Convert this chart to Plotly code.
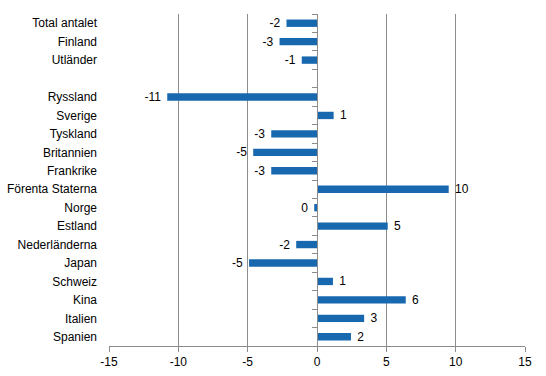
import plotly.graph_objects as go

categories = ["Total antalet", "Finland", "Utländer", " ", "Ryssland", "Sverige", "Tyskland",
              "Britannien", "Frankrike", "Förenta Staterna", "Norge", "Estland", "Nederländerna",
              "Japan", "Schweiz", "Kina", "Italien", "Spanien"]
values = [-2.2, -2.7, -1.1, None, -10.8, 1.2, -3.3, -4.6, -3.3, 9.5, -0.2, 5.1, -1.5, -4.9,
          1.15, 6.4, 3.4, 2.45]
labels = ["-2", "-3", "-1", "", "-11", "1", "-3", "-5", "-3", "10", "0", "5", "-2", "-5",
          "1", "6", "3", "2"]
x_ticks = [-15, -10, -5, 0, 5, 10, 15]

grid = "#8c8c8c"
font = dict(family="Liberation Sans, Arial, sans-serif", size=12, color="black")

nb = "\u00a0"
padded = []
for v, l in zip(values, labels):
    if v is None:
        padded.append("")
    elif v < 0:
        padded.append(l + nb)
    else:
        padded.append(nb + l)

fig = go.Figure()
fig.add_trace(go.Bar(x=[None] * len(categories), y=categories, orientation="h",
                     yaxis="y", showlegend=False, hoverinfo="skip"))
fig.add_trace(go.Bar(
    x=values, y=categories, orientation="h", yaxis="y2",
    marker=dict(color="#1868b0", line=dict(width=0)),
    text=padded, textposition="outside", cliponaxis=False, constraintext="none",
    textfont=font, showlegend=False,
))

fig.update_layout(
    width=546, height=376,
    margin=dict(l=109, r=21, t=14, b=30),
    paper_bgcolor="white", plot_bgcolor="white",
    font=font, bargap=0.6,
    xaxis=dict(range=[-15, 15], tickvals=x_ticks, ticktext=[str(v) for v in x_ticks],
               showgrid=True, gridcolor=grid, gridwidth=1, zeroline=False,
               showline=True, linecolor=grid, linewidth=1, automargin=False,
               ticks="outside", ticklen=5, tickcolor=grid, tickfont=font),
    yaxis=dict(type="category", categoryorder="array", categoryarray=categories,
               autorange="reversed", showgrid=False, zeroline=False, showline=False,
               ticks="", tickfont=font, ticklabelstandoff=11, automargin=False),
    yaxis2=dict(type="category", categoryorder="array", categoryarray=categories,
                autorange="reversed", overlaying="y", anchor="free", position=0.5,
                showgrid=False, zeroline=False, showline=True, linecolor=grid, linewidth=1,
                ticks="outside", tickson="boundaries", ticklen=5, tickcolor=grid,
                showticklabels=False, automargin=False),
)

fig.write_html("out.html", config={"displayModeBar": False},
               post_script="document.body.style.margin='0';")
